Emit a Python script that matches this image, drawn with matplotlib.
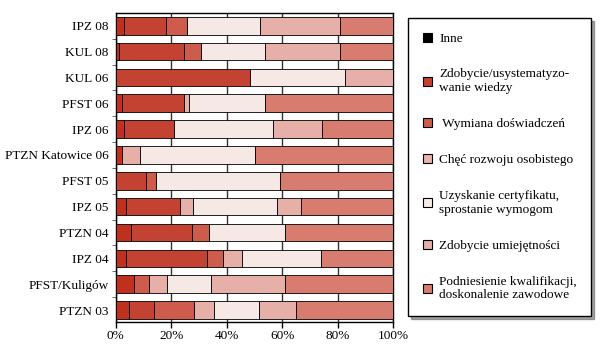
import numpy as np
import matplotlib.pyplot as plt
from matplotlib.patches import Patch

plt.rcParams['font.family'] = ['Liberation Serif', 'DejaVu Serif']

# categories, bottom to top
groups = ['PTZN 03', 'PFST/Kuligów', 'IPZ 04', 'PTZN 04', 'IPZ 05', 'PFST 05',
          'PTZN Katowice 06', 'IPZ 06', 'PFST 06', 'KUL 06', 'KUL 08', 'IPZ 08']

labels = ['Inne',
          'Zdobycie/usystematyzo-\nwanie wiedzy',
          ' Wymiana doświadczeń',
          'Chęć rozwoju osobistego',
          'Uzyskanie certyfikatu,\nsprostanie wymogom',
          'Zdobycie umiejętności',
          'Podniesienie kwalifikacji,\ndoskonalenie zawodowe']

# shares in %, same order as groups
inne     = [4.6, 6.7, 3.7, 5.4, 3.5, 0.0, 2.2, 2.8, 2.4, 0.0, 1.0, 2.8]
wiedza   = [9.3, 0.0, 29.3, 22.2, 19.7, 10.9, 0.0, 18.0, 22.0, 48.4, 23.4, 15.3]
wymiana  = [14.3, 5.1, 5.5, 5.8, 0.0, 3.6, 0.0, 0.0, 0.0, 0.0, 6.3, 7.7]
rozwoj   = [7.0, 6.8, 6.9, 0.0, 4.5, 0.0, 6.6, 0.0, 2.1, 0.0, 0.0, 0.0]
certyf   = [16.4, 15.6, 28.4, 27.6, 30.5, 44.7, 41.4, 35.7, 27.3, 34.3, 23.1, 26.2]
umiejet  = [13.2, 26.8, 0.0, 0.0, 8.5, 0.0, 0.0, 17.8, 0.0, 17.3, 27.0, 28.8]
kwalif   = [35.2, 39.0, 26.2, 39.0, 33.3, 40.8, 49.8, 25.7, 46.2, 0.0, 19.2, 19.2]

series = [inne, wiedza, wymiana, rozwoj, certyf, umiejet, kwalif]
bar_colors = ['#c0301f', '#c44232', '#cd5c4d', '#e6afa7', '#f6e8e4', '#e6afa7', '#d87c70']
leg_colors = ['#000000', '#c44232', '#cd5c4d', '#e8b4ac', '#f8ece8', '#e4b0a8', '#d87c70']

fig = plt.figure(figsize=(6, 3.51), dpi=100)
ax = fig.add_axes([0.193, 0.0835, 0.4627, 0.880])

y = np.arange(len(groups))
left = np.zeros(len(groups))
for vals, col in zip(series, bar_colors):
    vals = np.array(vals)
    ax.barh(y, vals, left=left, height=0.68, color=col, edgecolor='black',
            linewidth=0.6, zorder=3)
    left += vals

ax.set_xlim(0, 100)
ax.set_ylim(-0.45, 11.5)
ax.set_xticks(np.arange(0, 101, 20))
ax.set_xticklabels(['%d%%' % v for v in range(0, 101, 20)], fontsize=9.5)
ax.set_yticks(y)
ax.set_yticklabels(groups, fontsize=9.5)
ax.set_yticks(y[:-1] + 0.5, minor=True)
ax.tick_params(axis='y', which='major', length=0, pad=5)
ax.tick_params(axis='y', which='minor', length=3, color='#555555')
ax.tick_params(axis='x', length=4, width=1, pad=2)
ax.xaxis.grid(True, color='#333333', linewidth=1, zorder=0)
ax.set_axisbelow(True)
for s in ax.spines.values():
    s.set_linewidth(1)

handles = [Patch(facecolor=c, edgecolor='black', linewidth=0.8) for c in leg_colors]
leg = fig.legend(handles, labels, loc='upper left',
                 bbox_to_anchor=(408 / 600, 1 - 18 / 351), fontsize=9.5,
                 frameon=True, fancybox=False, shadow=True, borderpad=1.1,
                 labelspacing=1.8, handlelength=0.7, handleheight=0.7,
                 handletextpad=0.55, borderaxespad=0)
leg.get_frame().set_edgecolor('black')
leg.get_frame().set_linewidth(1)

fig.savefig('out.png', dpi=100)
